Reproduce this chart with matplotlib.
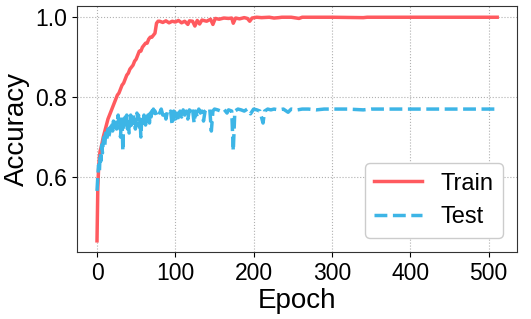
import matplotlib
matplotlib.use("Agg")
import matplotlib.pyplot as plt

plt.rcParams['font.family'] = ['Liberation Sans', 'DejaVu Sans']

train_epoch = [0, 1, 2, 3, 4, 6, 8, 10, 12, 14, 16, 18, 20, 22, 24, 26, 28, 30, 32, 34, 36, 38, 40,
               42, 44, 46, 48, 50, 52, 54, 56, 58, 60, 62, 64, 66, 68, 70, 72, 74, 76, 78, 80, 84,
               88, 92, 96, 100, 104, 108, 112, 116, 118, 122, 125, 128, 131, 134, 140, 145, 148, 151,
               156, 162, 168, 172, 174, 177, 182, 188, 192, 195, 198, 204, 210, 220, 226, 232, 236,
               248, 258, 262, 300, 340, 345, 511]
train_acc = [0.44, 0.57, 0.62, 0.65, 0.665, 0.68, 0.70, 0.715, 0.73, 0.745, 0.755, 0.765, 0.775,
             0.785, 0.795, 0.805, 0.81, 0.82, 0.83, 0.835, 0.845, 0.855, 0.86, 0.87, 0.875, 0.88,
             0.89, 0.895, 0.905, 0.915, 0.915, 0.925, 0.93, 0.935, 0.935, 0.945, 0.95, 0.95, 0.955,
             0.96, 0.985, 0.99, 0.99, 0.987, 0.991, 0.986, 0.99, 0.988, 0.992, 0.986, 0.99, 0.982,
             0.991, 0.99, 0.978, 0.992, 0.983, 0.993, 0.99, 0.995, 0.982, 0.997, 0.995, 0.998,
             0.997, 0.998, 0.985, 0.998, 0.996, 0.999, 0.997, 0.99, 0.998, 1.0, 0.999, 1.0, 0.998,
             0.999, 1.0, 1.0, 0.997, 1.0, 1.0, 0.999, 1.0, 1.0]

test_epoch = list(range(0, 74)) + [74, 76, 78, 80, 82, 84, 86, 88, 90, 92, 94, 96, 98, 100, 102, 104,
              106, 108, 110, 112, 114, 116, 118, 120, 122, 124, 126, 128, 130, 132, 134, 136, 138,
              140, 142, 144, 146, 148, 150, 154, 158, 162, 166, 168, 172, 174, 176, 180, 184, 188,
              192, 196, 200, 204, 208, 212, 214, 218, 222, 226, 232, 238, 244, 248, 256, 262, 270,
              280, 290, 300, 320, 340, 350, 400, 450, 511]
test_acc = [0.565, 0.60, 0.63, 0.61, 0.66, 0.64, 0.68, 0.66, 0.69, 0.70, 0.68, 0.71, 0.695, 0.70,
            0.72, 0.70, 0.71, 0.725, 0.71, 0.73, 0.715, 0.74, 0.725, 0.73, 0.745, 0.72, 0.74, 0.755,
            0.73, 0.745, 0.70, 0.735, 0.745, 0.665, 0.74, 0.73, 0.75, 0.74, 0.755, 0.72, 0.745,
            0.71, 0.74, 0.755, 0.73, 0.745, 0.76, 0.735, 0.745, 0.72, 0.74, 0.76, 0.745, 0.755,
            0.725, 0.745, 0.70, 0.74, 0.75, 0.735, 0.755, 0.745, 0.73, 0.75, 0.74, 0.755, 0.745,
            0.735, 0.76, 0.75, 0.765, 0.755, 0.77, 0.76,
            0.765, 0.755, 0.765, 0.76, 0.77, 0.755, 0.765, 0.745, 0.765, 0.76, 0.765, 0.73, 0.765,
            0.745, 0.76, 0.74, 0.765, 0.75, 0.768, 0.755, 0.765, 0.745, 0.768, 0.76, 0.77, 0.735,
            0.765, 0.75, 0.77, 0.76, 0.765, 0.74, 0.765, 0.77, 0.768, 0.77, 0.715, 0.765, 0.77,
            0.768, 0.765, 0.77, 0.76, 0.768, 0.765, 0.665, 0.765, 0.77, 0.768, 0.765, 0.77, 0.758,
            0.77, 0.768, 0.765, 0.735, 0.765, 0.77, 0.768, 0.77, 0.768, 0.77, 0.762, 0.77, 0.768,
            0.77, 0.77, 0.768, 0.77, 0.77, 0.77, 0.768, 0.77, 0.77, 0.77, 0.77]

fig = plt.figure(figsize=(5.31, 3.19), dpi=100)
ax = fig.add_axes([0.145, 0.21, 0.829, 0.771])

ax.plot(train_epoch, train_acc, color='#FF5A5F', lw=2.5, label='Train')
ax.plot(test_epoch, test_acc, color='#3DB5E6', lw=2.5, ls='--', label='Test')

ax.grid(True, ls=':', color='#b0b0b0', lw=0.8)
ax.set_xticks([0, 100, 200, 300, 400, 500])
ax.set_yticks([0.6, 0.8, 1.0])
ax.tick_params(labelsize=16.5)
ax.set_xlabel('Epoch', fontsize=20, labelpad=2)
ax.set_ylabel('Accuracy', fontsize=20, labelpad=4)
for s in ax.spines.values():
    s.set_color('#333333')
ax.legend(loc='lower right', fontsize=17, framealpha=1, edgecolor='#cccccc',
          borderaxespad=0.6)

fig.savefig('out.png', dpi=100)
